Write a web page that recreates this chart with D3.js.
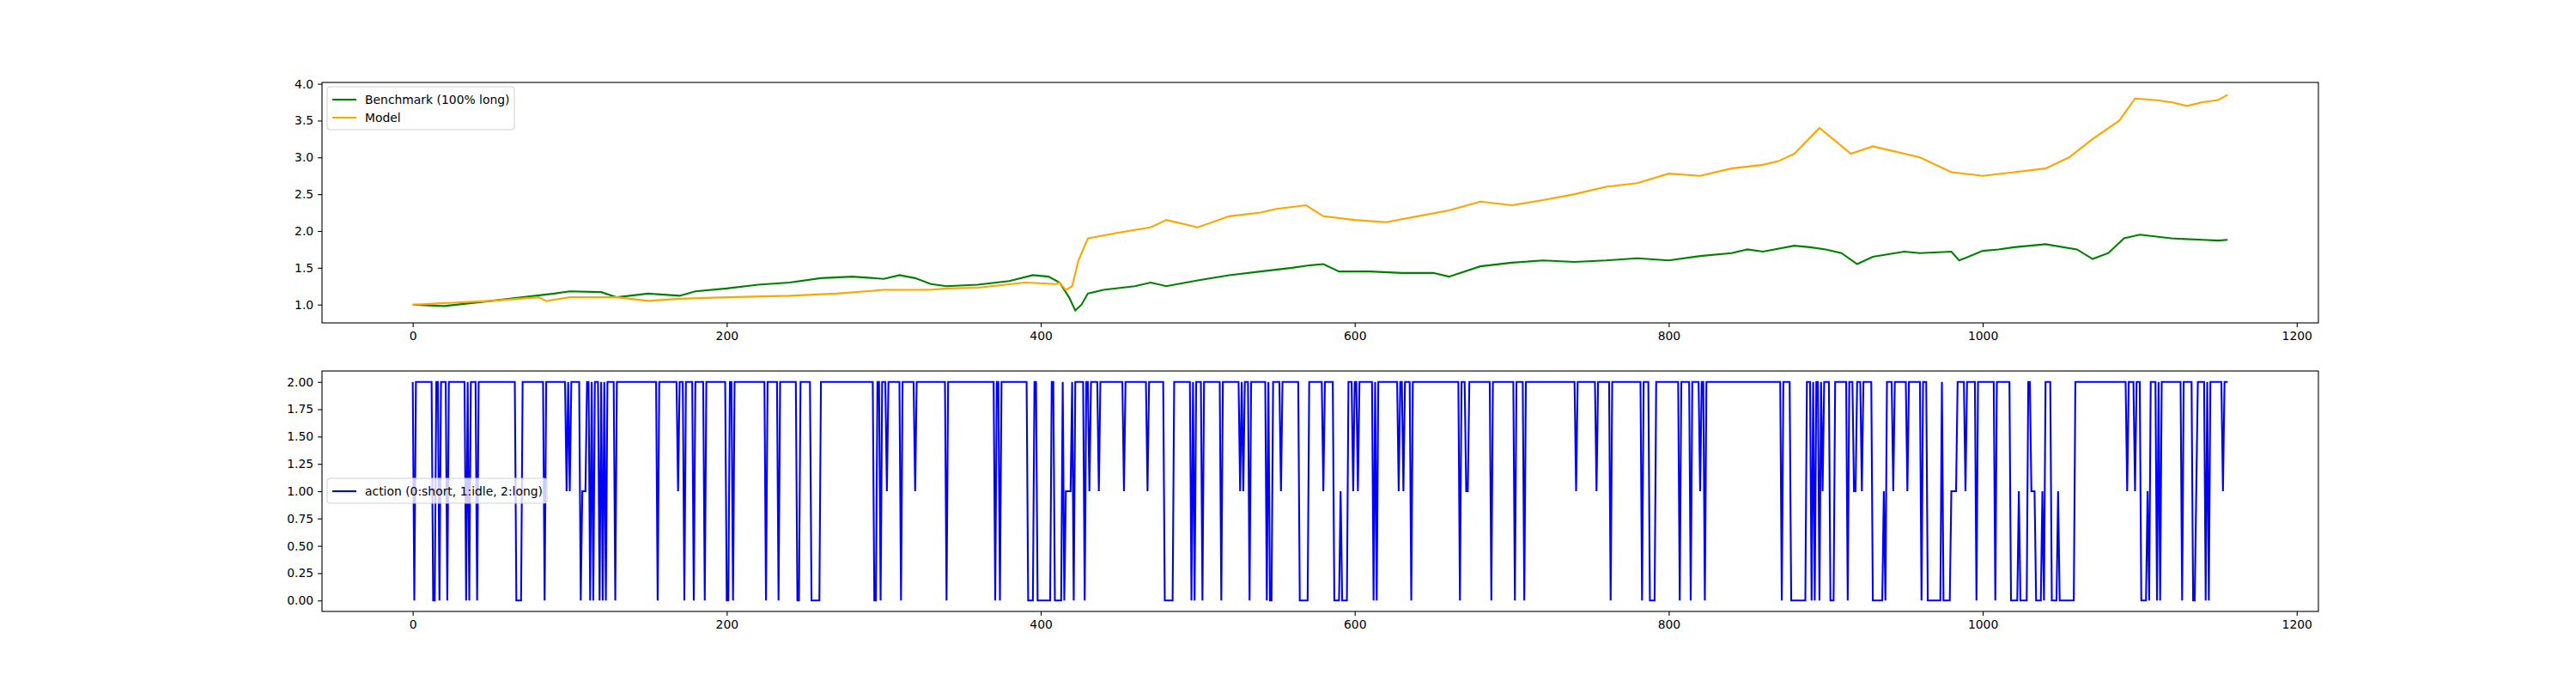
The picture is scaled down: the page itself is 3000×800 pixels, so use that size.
<!DOCTYPE html>
<html>
<head>
<meta charset="utf-8">
<script src="https://cdn.jsdelivr.net/npm/d3@7"></script>
<style>
  body { margin: 0; background: #fff; }
  text { font-family: "DejaVu Sans", sans-serif; }
</style>
</head>
<body>
<svg id="chart" width="3000" height="800"></svg>
<script>
var benchIdx = [0,20,50,70,90,100,120,130,150,170,180,200,220,240,260,280,300,310,320,330,340,360,380,395,405,412,418,422,426,430,440,460,470,480,500,520,540,560,570,580,590,610,630,650,660,680,700,720,740,760,780,800,820,840,850,860,880,890,900,910,920,930,950,960,980,985,1000,1010,1020,1040,1060,1070,1080,1090,1100,1120,1140,1150,1156];
var benchVal = [1.0,0.98,1.05,1.1,1.15,1.18,1.17,1.1,1.15,1.12,1.18,1.22,1.27,1.3,1.36,1.38,1.35,1.4,1.36,1.28,1.25,1.27,1.32,1.4,1.38,1.3,1.1,0.92,1.0,1.15,1.2,1.25,1.3,1.25,1.33,1.4,1.45,1.5,1.53,1.55,1.45,1.45,1.43,1.43,1.38,1.52,1.57,1.6,1.58,1.6,1.63,1.6,1.66,1.7,1.75,1.72,1.8,1.78,1.75,1.7,1.55,1.65,1.72,1.7,1.72,1.6,1.73,1.75,1.78,1.82,1.75,1.62,1.7,1.9,1.95,1.9,1.88,1.87,1.88];

// Model
var modelIdx = [0,20,50,80,85,100,130,150,170,200,240,270,300,330,340,360,390,410,412,416,420,424,430,450,470,480,500,520,540,550,569,580,600,620,640,660,680,700,720,740,760,780,800,820,840,860,870,880,896,916,930,960,980,1000,1020,1040,1055,1070,1087,1097,1110,1120,1130,1140,1150,1156];
var modelVal = [1.0,1.02,1.05,1.1,1.05,1.1,1.1,1.05,1.08,1.1,1.12,1.15,1.2,1.2,1.22,1.23,1.3,1.28,1.3,1.2,1.25,1.6,1.9,1.98,2.05,2.15,2.05,2.2,2.25,2.3,2.35,2.2,2.15,2.12,2.2,2.28,2.4,2.35,2.42,2.5,2.6,2.65,2.78,2.75,2.85,2.9,2.95,3.05,3.4,3.05,3.15,3.0,2.8,2.75,2.8,2.85,3.0,3.25,3.5,3.8,3.78,3.75,3.7,3.75,3.78,3.85];

// Actions: 2 (long) everywhere except these runs
var nSteps = 1157;
var dipStart = [1,13,17,22,34,36,41,66,84,98,100,107,108,113,115,119,121,123,129,156,169,173,179,186,200,204,225,233,245,254,294,298,302,311,320,340,371,374,392,398,409,415,416,421,428,431,437,453,468,479,496,498,503,515,527,529,533,544,546,547,553,565,580,587,591,592,599,602,612,614,628,631,636,667,671,687,702,708,741,754,763,783,788,807,814,820,823,872,878,891,893,896,898,903,914,918,923,930,937,938,943,952,961,965,975,980,989,996,1008,1018,1023,1024,1031,1034,1038,1039,1044,1048,1049,1092,1097,1101,1105,1106,1111,1113,1127,1134,1136,1142,1144,1153];
var dipEnd   = [1,14,17,22,34,36,41,69,84,98,100,107,110,113,115,119,121,123,129,156,169,173,179,186,201,204,225,233,246,259,295,298,302,311,320,340,371,374,395,406,413,415,419,421,428,431,437,453,468,484,496,498,503,515,527,529,533,544,546,547,553,570,580,590,591,595,599,602,612,614,628,631,636,667,672,687,702,708,741,754,763,783,791,807,814,820,823,872,887,891,893,896,898,905,914,919,923,936,937,938,943,952,961,973,979,983,989,996,1008,1022,1023,1028,1033,1037,1038,1039,1047,1048,1058,1092,1097,1104,1105,1106,1111,1113,1127,1135,1136,1142,1144,1153];
var dipValue = [0,0,0,0,0,0,0,0,0,1,1,0,1,0,0,0,0,0,0,0,1,0,0,0,0,0,0,0,0,0,0,0,1,0,1,0,0,0,0,0,0,0,1,0,0,1,1,1,1,0,0,0,0,0,1,1,0,0,0,0,1,0,1,0,1,0,1,1,0,0,1,1,0,0,1,0,0,0,1,1,0,0,0,0,0,1,0,0,0,0,0,0,1,0,0,1,1,0,1,0,1,1,0,0,0,1,1,0,0,0,1,0,1,0,1,0,0,1,0,1,1,0,1,0,0,0,0,0,1,0,0,1];

var actions = d3.range(nSteps).map(function() { return 2; });
dipStart.forEach(function(s, k) {
  for (var i = s; i <= dipEnd[k]; i++) actions[i] = dipValue[k];
});

var xTicks = [0,200,400,600,800,1000,1200];
var topTicks = [1.0,1.5,2.0,2.5,3.0,3.5,4.0];
var botTicks = [0,0.25,0.5,0.75,1.0,1.25,1.5,1.75,2.0];

var svg = d3.select("#chart");
var L = 375, R = 2700;
var panels = [{top: 96, bottom: 376}, {top: 432, bottom: 712}];

var x = d3.scaleLinear().domain([-57.8, 1213.8]).range([L, R]);

function pad(ext) {
  var d = ext[1] - ext[0];
  return [ext[0] - d * 0.05, ext[1] + d * 0.05];
}

function drawAxes(g, y, ticks, fmt) {
  g.append("g").attr("transform", "translate(0," + y.range()[0] + ")")
    .call(d3.axisBottom(x).tickValues(xTicks).tickSize(4.9).tickPadding(4.9).tickFormat(d3.format("d")));
  g.append("g").attr("transform", "translate(" + L + ",0)")
    .call(d3.axisLeft(y).tickValues(ticks).tickSize(4.9).tickPadding(4.9).tickFormat(d3.format(fmt)));
  g.selectAll(".domain").remove();
  g.selectAll(".tick line").attr("stroke", "#000").attr("stroke-width", 1.1);
  g.selectAll(".tick text").attr("fill", "#000").style("font-size", "13.9px").style("font-family", "DejaVu Sans");
  g.append("rect").attr("x", L).attr("y", y.range()[1]).attr("width", R - L)
    .attr("height", y.range()[0] - y.range()[1]).attr("fill", "none").attr("stroke", "#000").attr("stroke-width", 1.1);
}

function legend(g, lx, ly, items, w) {
  var h = 8 + items.length * 21;
  g.append("rect").attr("x", lx).attr("y", ly).attr("width", w).attr("height", h).attr("rx", 3)
    .attr("fill", "#fff").attr("fill-opacity", 0.8).attr("stroke", "#d0d0d0");
  items.forEach(function(it, i) {
    var cy = ly + 15 + i * 21;
    g.append("line").attr("x1", lx + 6).attr("x2", lx + 34).attr("y1", cy).attr("y2", cy)
      .attr("stroke", it.color).attr("stroke-width", 2.1);
    g.append("text").attr("x", lx + 44).attr("y", cy + 5).text(it.label).style("font-size", "13.9px").attr("fill", "#000");
  });
}

// top panel
var yTop = d3.scaleLinear().domain(pad([0.9, 3.87])).range([panels[0].bottom, panels[0].top]);
var gTop = svg.append("g");
var lineTop = d3.line().x(function(d) { return x(d[0]); }).y(function(d) { return yTop(d[1]); });
gTop.append("path").datum(d3.zip(benchIdx, benchVal)).attr("d", lineTop)
  .attr("fill", "none").attr("stroke", "green").attr("stroke-width", 2.1);
gTop.append("path").datum(d3.zip(modelIdx, modelVal)).attr("d", lineTop)
  .attr("fill", "none").attr("stroke", "orange").attr("stroke-width", 2.1);
drawAxes(gTop, yTop, topTicks, ".1f");
legend(gTop, 381, 101, [{label: "Benchmark (100% long)", color: "green"}, {label: "Model", color: "orange"}], 218);

// bottom panel
var yBot = d3.scaleLinear().domain([-0.1, 2.1]).range([panels[1].bottom, panels[1].top]);
var gBot = svg.append("g");
gBot.append("path").datum(actions)
  .attr("d", d3.line().x(function(d, i) { return x(i); }).y(function(d) { return yBot(d); }))
  .attr("fill", "none").attr("stroke", "blue").attr("stroke-width", 2.1);
drawAxes(gBot, yBot, botTicks, ".2f");
legend(gBot, 381, 557, [{label: "action (0:short, 1:idle, 2:long)", color: "blue"}], 256);
</script>
</body>
</html>
